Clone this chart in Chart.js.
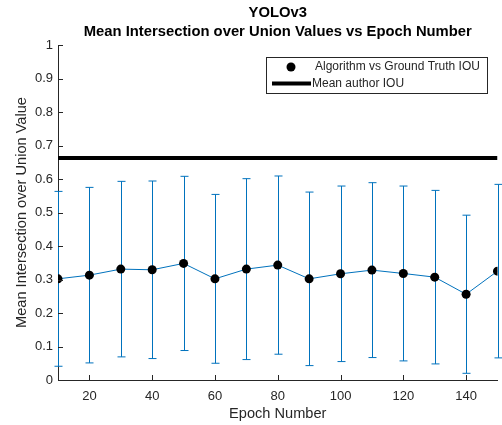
<!DOCTYPE html>
<html>
<head>
<meta charset="utf-8">
<script src="https://cdn.jsdelivr.net/npm/chart.js@4/dist/chart.umd.min.js"></script>
<style>
  html, body { margin: 0; padding: 0; background: #fff; }
  #wrap { width: 502px; height: 425px; }
</style>
</head>
<body>
<div id="wrap"><canvas id="iouChart" width="502" height="425"></canvas></div>
<script>
const epochs = [10, 20, 30, 40, 50, 60, 70, 80, 90, 100, 110, 120, 130, 140, 150];
const meanIou = [0.302, 0.313, 0.331, 0.329, 0.348, 0.302, 0.331, 0.343, 0.302, 0.317, 0.328, 0.318, 0.307, 0.256, 0.325];
const iouErr = [0.261, 0.262, 0.262, 0.265, 0.260, 0.252, 0.270, 0.266, 0.259, 0.262, 0.261, 0.261, 0.259, 0.236, 0.259];
const authorIou = 0.663;
const xTicks = [20, 40, 60, 80, 100, 120, 140];
const yTicks = [0, 0.1, 0.2, 0.3, 0.4, 0.5, 0.6, 0.7, 0.8, 0.9, 1];
const titleLines = ["YOLOv3", "Mean Intersection over Union Values vs Epoch Number"];

const fontFamily = "'Liberation Sans', Arial, Helvetica, sans-serif";
const axisColor = "#262626";
const blue = "#0072BD";

const points = epochs.map(function (e, i) { return { x: e, y: meanIou[i] }; });
const authorLine = [{ x: epochs[0], y: authorIou }, { x: epochs[epochs.length - 1], y: authorIou }];

// error bars under the line and markers
const errorBars = {
    id: "errorBars",
    beforeDatasetsDraw: function (chart) {
        const ctx = chart.ctx;
        const xs = chart.scales.x;
        const ys = chart.scales.y;
        ctx.save();
        ctx.strokeStyle = blue;
        ctx.lineWidth = 1;
        for (let i = 0; i < epochs.length; i++) {
            const px = Math.round(xs.getPixelForValue(epochs[i])) + 0.5;
            const top = ys.getPixelForValue(meanIou[i] + iouErr[i]);
            const bot = ys.getPixelForValue(meanIou[i] - iouErr[i]);
            ctx.beginPath();
            ctx.moveTo(px, top);
            ctx.lineTo(px, bot);
            ctx.moveTo(px - 4, top);
            ctx.lineTo(px + 4, top);
            ctx.moveTo(px - 4, bot);
            ctx.lineTo(px + 4, bot);
            ctx.stroke();
        }
        ctx.restore();
    }
};

// inward tick marks, title and legend box
const decorations = {
    id: "decorations",
    afterDraw: function (chart) {
        const ctx = chart.ctx;
        const area = chart.chartArea;
        const xs = chart.scales.x;
        const ys = chart.scales.y;
        ctx.save();
        ctx.strokeStyle = axisColor;
        ctx.lineWidth = 1;
        ctx.beginPath();
        xTicks.forEach(function (t) {
            const px = Math.round(xs.getPixelForValue(t)) + 0.5;
            ctx.moveTo(px, area.bottom);
            ctx.lineTo(px, area.bottom - 5);
        });
        yTicks.forEach(function (t) {
            const py = Math.round(ys.getPixelForValue(t)) + 0.5;
            ctx.moveTo(area.left, py);
            ctx.lineTo(area.left + 5, py);
        });
        ctx.stroke();

        // title
        ctx.fillStyle = "#000";
        ctx.font = "bold 14.8px " + fontFamily;
        ctx.textAlign = "center";
        ctx.textBaseline = "middle";
        const cx = (area.left + area.right) / 2;
        ctx.fillText(titleLines[0], cx, 13);
        ctx.fillText(titleLines[1], cx, 32);

        // legend
        const lx = 266, ly = 57, lw = 222, lh = 37;
        ctx.fillStyle = "#fff";
        ctx.fillRect(lx, ly, lw, lh);
        ctx.strokeStyle = axisColor;
        ctx.lineWidth = 1;
        ctx.strokeRect(lx + 0.5, ly + 0.5, lw - 1, lh - 1);
        ctx.fillStyle = "#000";
        ctx.beginPath();
        ctx.arc(291, 67, 4.5, 0, Math.PI * 2);
        ctx.fill();
        ctx.strokeStyle = "#000";
        ctx.lineWidth = 4;
        ctx.beginPath();
        ctx.moveTo(272, 83.5);
        ctx.lineTo(311, 83.5);
        ctx.stroke();
        ctx.fillStyle = axisColor;
        ctx.font = "12px " + fontFamily;
        ctx.textAlign = "left";
        ctx.fillText("Algorithm vs Ground Truth IOU", 315, 67);
        ctx.fillText("Mean author IOU", 312, 84);
        ctx.restore();
    }
};

const chartCtx = document.getElementById("iouChart").getContext("2d");
new Chart(chartCtx, {
    type: "scatter",
    data: {
        datasets: [
            {
                label: "Mean author IOU",
                data: authorLine,
                showLine: true,
                borderColor: "#000",
                borderWidth: 4,
                pointRadius: 0,
                order: 2
            },
            {
                label: "Algorithm vs Ground Truth IOU",
                data: points,
                showLine: true,
                borderColor: blue,
                borderWidth: 1,
                pointRadius: 4.5,
                pointBackgroundColor: "#000",
                pointBorderColor: "#000",
                pointBorderWidth: 0,
                order: 1
            }
        ]
    },
    plugins: [errorBars, decorations],
    options: {
        responsive: false,
        animation: false,
        layout: { padding: { top: 45, right: 4, left: 0, bottom: 0 } },
        plugins: {
            legend: { display: false },
            title: { display: false },
            tooltip: { enabled: false }
        },
        scales: {
            x: {
                type: "linear",
                min: 10,
                max: 150,
                afterBuildTicks: function (scale) {
                    scale.ticks = xTicks.map(function (v) { return { value: v }; });
                },
                afterFit: function (scale) { scale.height = 45; },
                grid: { display: false, drawTicks: false },
                border: { display: true, color: axisColor, width: 1 },
                ticks: {
                    color: axisColor,
                    font: { family: fontFamily, size: 13 },
                    padding: 9,
                    maxRotation: 0
                },
                title: {
                    display: true,
                    text: "Epoch Number",
                    color: axisColor,
                    font: { family: fontFamily, size: 14.6 },
                    padding: { top: 0, bottom: 2 }
                }
            },
            y: {
                type: "linear",
                min: 0,
                max: 1,
                afterBuildTicks: function (scale) {
                    scale.ticks = yTicks.map(function (v) { return { value: v }; });
                },
                afterFit: function (scale) { scale.width = 58; },
                grid: { display: false, drawTicks: false },
                border: { display: true, color: axisColor, width: 1 },
                ticks: {
                    color: axisColor,
                    font: { family: fontFamily, size: 13 },
                    padding: 5,
                    callback: function (v) { return String(v); }
                },
                title: {
                    display: true,
                    text: "Mean Intersection over Union Value",
                    color: axisColor,
                    font: { family: fontFamily, size: 14.6 },
                    padding: { top: 13, bottom: 0 }
                }
            }
        }
    }
});
</script>
</body>
</html>
